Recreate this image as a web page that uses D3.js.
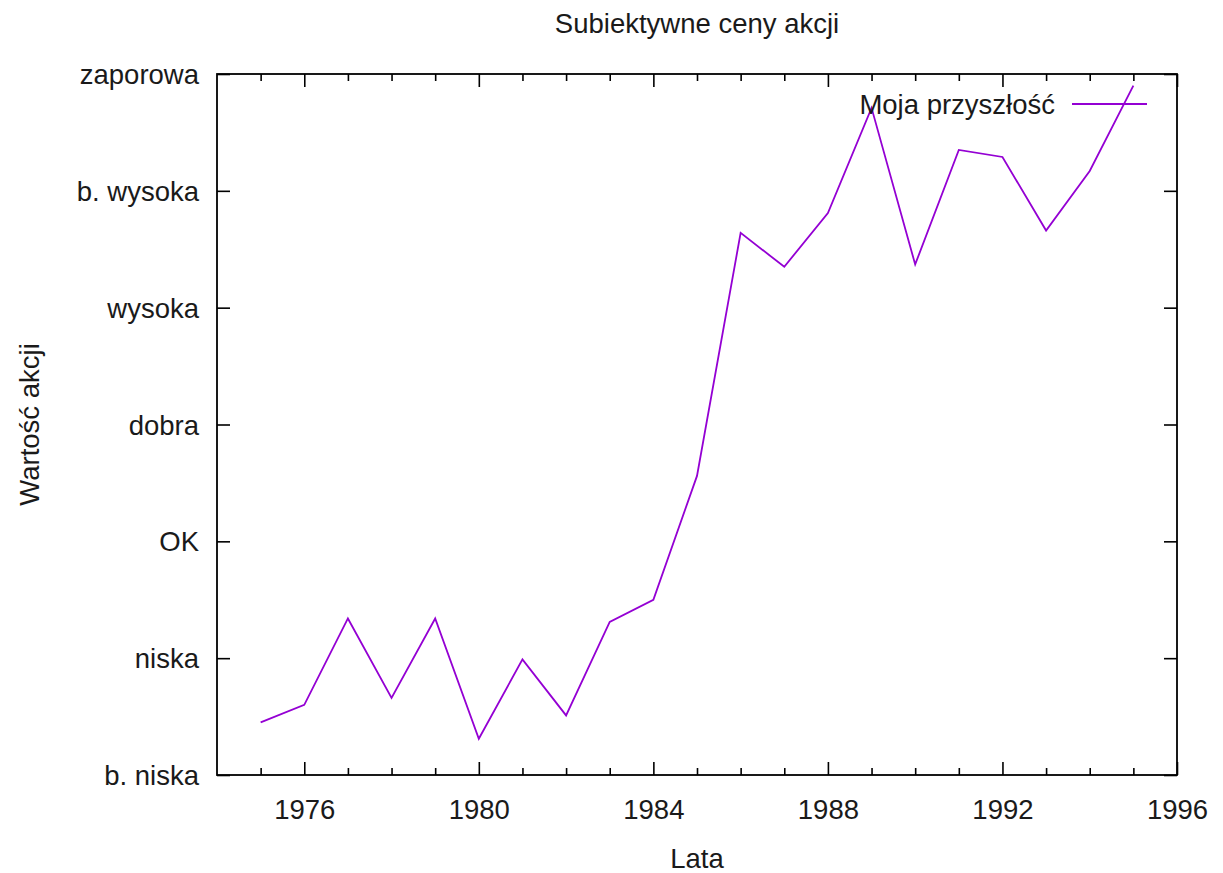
<!DOCTYPE html>
<html>
<head>
<meta charset="utf-8">
<script src="https://cdn.jsdelivr.net/npm/d3@7"></script>
<style>
  html, body { margin: 0; padding: 0; background: #fff; }
  svg { display: block; }
  text { font-family: "Liberation Sans", Arial, sans-serif; fill: #1a1a1a; }
</style>
</head>
<body>
<svg id="chart" width="1223" height="873"></svg>
<script>
const years = [1975,1976,1977,1978,1979,1980,1981,1982,1983,1984,1985,1986,1987,1988,1989,1990,1991,1992,1993,1994,1995];
const values = [0.45,0.60,1.34,0.66,1.34,0.31,0.99,0.51,1.31,1.50,2.56,4.64,4.35,4.81,5.71,4.37,5.35,5.29,4.66,5.17,5.90];
const yLabels = ["b. niska","niska","OK","dobra","wysoka","b. wysoka","zaporowa"];
const xMajorTicks = [1976,1980,1984,1988,1992,1996];
const xMinorTicks = [1975,1977,1978,1979,1981,1982,1983,1985,1986,1987,1989,1990,1991,1993,1994,1995];
const titleText = "Subiektywne ceny akcji";
const xLabelText = "Lata";
const yLabelText = "Wartość akcji";
const seriesName = "Moja przyszłość";

const svg = d3.select("#chart");
const L = 217, R = 1177, T = 74, B = 775;
const FS = 27.5;
const color = "#9400d3";

const x = d3.scaleLinear().domain([1974, 1996]).range([L, R]);
const y = d3.scaleLinear().domain([0, 6]).range([B, T]);

const fmt = d3.format("d");
const gB = svg.append("g").attr("transform", `translate(0,${B})`)
  .call(d3.axisBottom(x).tickValues(xMajorTicks).tickSize(-13).tickFormat(fmt));
const gBm = svg.append("g").attr("transform", `translate(0,${B})`)
  .call(d3.axisBottom(x).tickValues(xMinorTicks).tickSize(-7).tickFormat(""));
const gT = svg.append("g").attr("transform", `translate(0,${T})`)
  .call(d3.axisTop(x).tickValues(xMajorTicks).tickSize(-13).tickFormat(""));
const gTm = svg.append("g").attr("transform", `translate(0,${T})`)
  .call(d3.axisTop(x).tickValues(xMinorTicks).tickSize(-7).tickFormat(""));
const gL = svg.append("g").attr("transform", `translate(${L},0)`)
  .call(d3.axisLeft(y).tickValues(d3.range(yLabels.length)).tickSize(-13).tickPadding(18).tickFormat(i => yLabels[i]));
const gR = svg.append("g").attr("transform", `translate(${R},0)`)
  .call(d3.axisRight(y).tickValues(d3.range(yLabels.length)).tickSize(-13).tickFormat(""));

[gB, gBm, gT, gTm, gL, gR].forEach(g => {
  g.select(".domain").remove();
  g.selectAll(".tick line").attr("stroke", "#000").attr("stroke-width", 1.6);
  g.selectAll("text").style("font-size", FS + "px").style("font-family", "'Liberation Sans', Arial, sans-serif").attr("fill", "#1a1a1a");
});
gB.selectAll(".tick text").attr("dy", null).attr("y", 44);
gL.selectAll(".tick text").attr("dy", "0.35em").attr("x", -18);

svg.append("rect").attr("x", L).attr("y", T).attr("width", R - L).attr("height", B - T)
  .attr("fill", "none").attr("stroke", "#000").attr("stroke-width", 1.8);

const line = d3.line().x((d, i) => x(years[i])).y(d => y(d));
svg.append("path").datum(values).attr("d", line)
  .attr("fill", "none").attr("stroke", color).attr("stroke-width", 1.8).attr("stroke-linejoin", "miter");

svg.append("text").attr("x", 1055).attr("y", 104).attr("dy", "0.35em").attr("text-anchor", "end")
  .style("font-size", FS + "px").text(seriesName);
svg.append("line").attr("x1", 1072).attr("x2", 1147).attr("y1", 104).attr("y2", 104)
  .attr("stroke", color).attr("stroke-width", 1.8);

svg.append("text").attr("x", (L + R) / 2).attr("y", 33).attr("text-anchor", "middle")
  .style("font-size", FS + "px").text(titleText);
svg.append("text").attr("x", (L + R) / 2).attr("y", 868).attr("text-anchor", "middle")
  .style("font-size", FS + "px").text(xLabelText);
svg.append("text").attr("transform", `translate(39,${(T + B) / 2}) rotate(-90)`).attr("text-anchor", "middle")
  .style("font-size", FS + "px").text(yLabelText);
</script>
</body>
</html>
